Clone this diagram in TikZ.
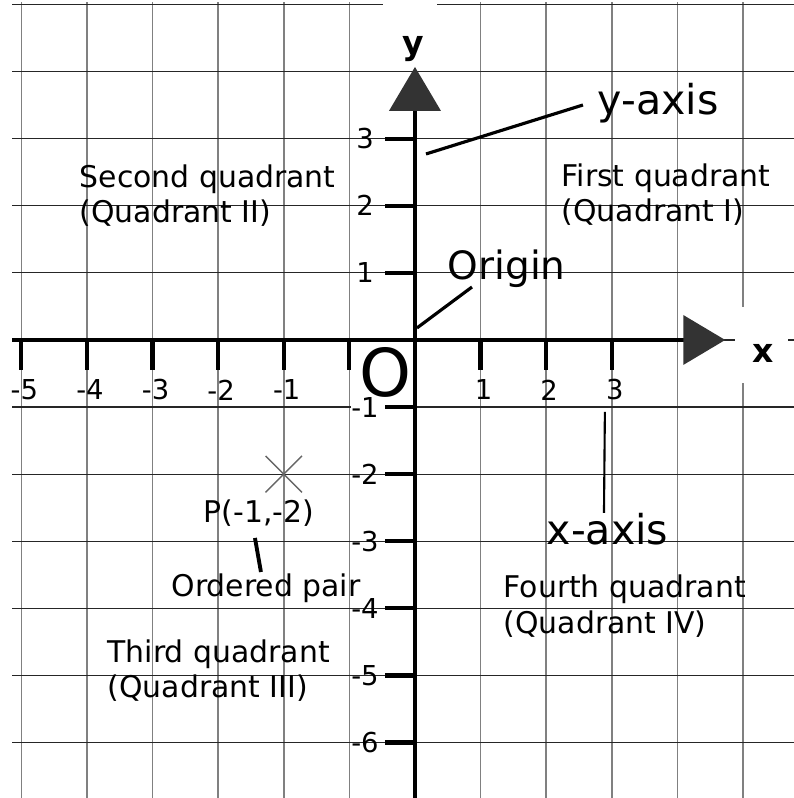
\documentclass[tikz,border=0pt]{standalone}
\usepackage{fontspec}
\setmainfont{DejaVu Sans}
\usetikzlibrary{arrows.meta,shapes.misc}

\begin{document}
\begin{tikzpicture}[x=0.656cm, y=0.671cm,
    vgrid/.style={black!50, line width=0.45pt},
    hgrid/.style={black!85, line width=0.35pt},
    axisline/.style={line width=1.1pt},
    tickmark/.style={line width=1.2pt},
    ticklbl/.style={inner sep=0pt, font=\fontsize{7.8}{9}\selectfont},
    axislbl/.style={anchor=base, inner sep=0pt, font=\bfseries\fontsize{9.4}{11}\selectfont},
    quadlbl/.style={anchor=base west, inner sep=0pt, align=left, font=\fontsize{8.5}{10}\selectfont},
    biglbl/.style={anchor=base west, inner sep=0pt, font=\fontsize{11.7}{14}\selectfont},
    leader/.style={line width=0.9pt}]
    \useasboundingbox (-6.326,-6.826) rectangle (5.777,5.067);
    % grid
    \foreach \x in {-6,...,-1,1,2,...,5}
        \draw[vgrid] (\x,5.03) -- (\x,-6.83);
    \foreach \y in {-6,...,5}
        \draw[hgrid] (-6.14,\y) -- (5.78,\y);
    % white patches behind the axis letters and the origin
    \fill[white] (-0.49,4.32) rectangle (0.335,5.07);
    \fill[white] (4.88,-0.64) rectangle (5.69,0.49);
    \fill[white] (-0.975,-0.03) rectangle (-0.06,-1.02);
    % axes
    \draw[axisline, -{Triangle[length=4.2mm, width=4.9mm, color=black!80]}] (-6.14,0) -- (4.73,0);
    \draw[axisline, -{Triangle[length=4.4mm, width=5.1mm, color=black!80]}] (0,-6.83) -- (0,4.07);
    % ticks
    \foreach \x in {-6,...,-1,1,2,3}
        \draw[tickmark] (\x,0) -- (\x,-0.45);
    \foreach \y in {-6,...,-1,1,2,3}
        \draw[tickmark] (0,\y) -- (-0.45,\y);
    \foreach \x/\t in {-6/-5,-5/-4,-4/-3,-3/-2,-2/-1,1/1,2/2,3/3}
        \node[ticklbl] (xt\x) at (\x+0.045,-0.745) {\t};
    \foreach \y in {-6,...,-1,1,2,3}
        \node[ticklbl] (yt\y) at (-0.762,\y) {\y};
    \node[inner sep=0pt, font=\fontsize{18.8}{22}\selectfont] (orig0) at (-0.45,-0.477) {O};
    \node[axislbl] (ylbl) at (-0.03,4.25) {y};
    \node[axislbl] (xlbl) at (5.305,-0.343) {x};
    % labels (base of a two-line label = its second line)
    \node[biglbl] (yaxislbl) at (2.774,3.353) {y-axis};
    \node[biglbl, font=\fontsize{11.1}{14}\selectfont] (originlbl) at (0.488,0.894) {Origin};
    \node[biglbl] (xaxislbl) at (1.997,-3.055) {x-axis};
    \node[quadlbl] (quad2) at (-5.122,1.744) {Second quadrant\\(Quadrant II)};
    \node[quadlbl] (quad1) at (2.226,1.759) {First quadrant\\(Quadrant I)};
    \node[quadlbl] (quad3) at (-4.695,-5.335) {Third quadrant\\(Quadrant III)};
    \node[quadlbl] (quad4) at (1.341,-4.367) {Fourth quadrant\\(Quadrant IV)};
    \node[quadlbl] (ptlbl) at (-3.232,-2.727) {P(-1,-2)};
    \node[quadlbl] (pairlbl) at (-3.72,-3.83) {Ordered pair};
    \node[cross out, draw=black!60, line width=0.4pt, minimum size=0.35cm, inner sep=0pt] (pmark) at (-2,-2) {};
    % leaders
    \coordinate (yaxistip) at (0.168,2.772);
    \coordinate (origintip) at (0.03,0.179);
    \coordinate (xaxistip) at (2.895,-1.07);
    \draw[leader] (yaxistip) -- ([xshift=-0.14cm,yshift=0.1cm]yaxislbl.base west);
    \draw[leader] (origintip) -- ([xshift=0.25cm,yshift=-0.07cm]originlbl.base west);
    \draw[leader, line width=0.6pt] (xaxistip) -- ([xshift=0.58cm,yshift=0.32cm]xaxislbl.base west);
    \draw[leader, line width=1.1pt] ([xshift=0.52cm,yshift=-0.15cm]ptlbl.base west) -- ([xshift=0.9cm,yshift=0.25cm]pairlbl.base west);
\end{tikzpicture}
\end{document}
